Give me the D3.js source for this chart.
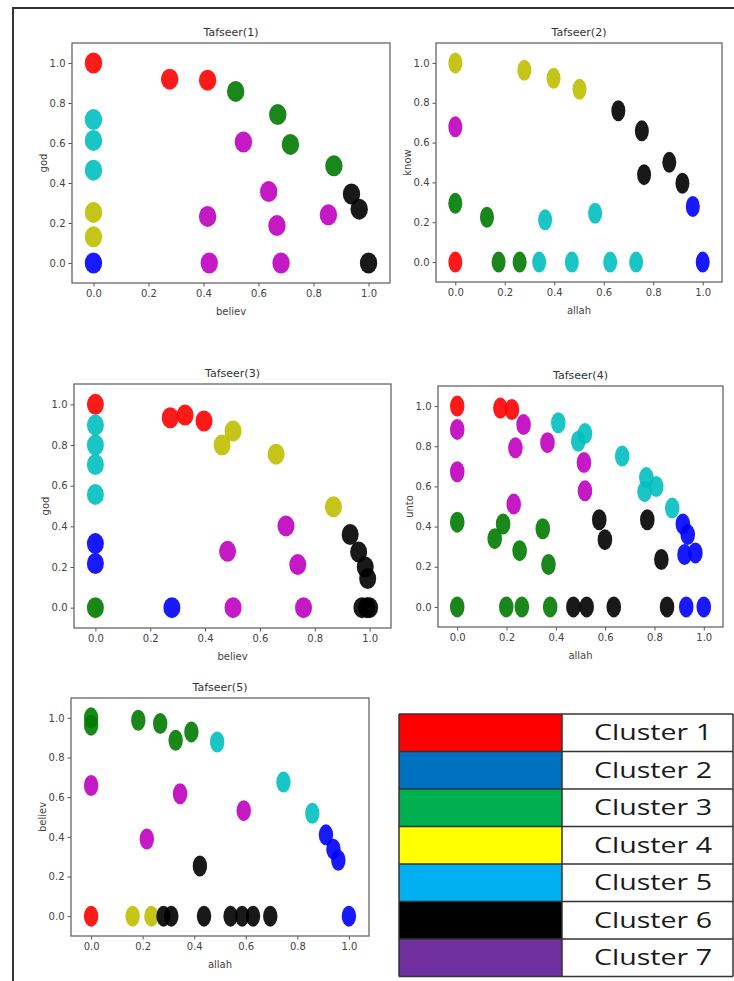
<!DOCTYPE html>
<html>
<head>
<meta charset="utf-8">
<script src="https://cdn.jsdelivr.net/npm/d3@7"></script>
<style>
  html, body { margin: 0; padding: 0; background: #fff; }
  svg { display: block; }
</style>
</head>
<body>
<svg id="chart" width="734" height="981"></svg>
<script>
// ---------------- DATA ----------------
const tickValues = [0.0, 0.2, 0.4, 0.6, 0.8, 1.0];

const titles = ["Tafseer(1)", "Tafseer(2)", "Tafseer(3)", "Tafseer(4)", "Tafseer(5)"];
const xLabels = ["believ", "allah", "believ", "allah", "allah"];
const yLabels = ["god", "know", "god", "unto", "believ"];

// [x, y, colour code]
const tafseer1 = [
  [0, 1.0, "r"], [0.277, 0.919, "r"], [0.415, 0.914, "r"],
  [0, 0, "b"],
  [0.517, 0.858, "g"], [0.670, 0.742, "g"], [0.716, 0.593, "g"], [0.874, 0.486, "g"],
  [0, 0.253, "y"], [0, 0.131, "y"],
  [0, 0.717, "c"], [0, 0.613, "c"], [0, 0.464, "c"],
  [0.938, 0.345, "k"], [0.966, 0.269, "k"], [1.0, 0, "k"],
  [0.545, 0.605, "m"], [0.637, 0.357, "m"], [0.415, 0.233, "m"], [0.667, 0.187, "m"],
  [0.854, 0.241, "m"], [0.421, 0, "m"], [0.682, 0, "m"]
];

const tafseer2 = [
  [0, 0, "r"],
  [0.960, 0.279, "b"], [1.0, 0, "b"],
  [0, 0.295, "g"], [0.128, 0.225, "g"], [0.175, 0, "g"], [0.26, 0, "g"],
  [0, 1.0, "y"], [0.279, 0.963, "y"], [0.397, 0.923, "y"], [0.502, 0.868, "y"],
  [0.363, 0.212, "c"], [0.565, 0.245, "c"], [0.339, 0, "c"], [0.471, 0, "c"], [0.626, 0, "c"], [0.731, 0, "c"],
  [0.659, 0.760, "k"], [0.754, 0.659, "k"], [0.763, 0.439, "k"], [0.865, 0.501, "k"], [0.918, 0.396, "k"],
  [0, 0.679, "m"]
];

const tafseer3 = [
  [0, 1.0, "r"], [0.273, 0.934, "r"], [0.327, 0.947, "r"], [0.396, 0.918, "r"],
  [0, 0.315, "b"], [0, 0.217, "b"], [0.279, 0, "b"],
  [0, 0, "g"],
  [0.462, 0.80, "y"], [0.502, 0.869, "y"], [0.659, 0.755, "y"], [0.868, 0.496, "y"],
  [0, 0.898, "c"], [0, 0.80, "c"], [0, 0.704, "c"], [0, 0.557, "c"],
  [0.929, 0.36, "k"], [0.96, 0.274, "k"], [0.984, 0.2, "k"], [0.993, 0.143, "k"],
  [0.972, 0, "k"], [0.99, 0, "k"], [1.0, 0, "k"],
  [0.695, 0.402, "m"], [0.482, 0.277, "m"], [0.738, 0.212, "m"], [0.502, 0, "m"], [0.759, 0, "m"]
];

const tafseer4 = [
  [0, 1.0, "r"], [0.175, 0.99, "r"], [0.222, 0.983, "r"],
  [0.915, 0.413, "b"], [0.935, 0.36, "b"], [0.922, 0.261, "b"], [0.966, 0.269, "b"],
  [0.929, 0, "b"], [1.0, 0, "b"],
  [0, 0.422, "g"], [0.186, 0.413, "g"], [0.152, 0.34, "g"], [0.253, 0.28, "g"],
  [0.347, 0.389, "g"], [0.37, 0.211, "g"],
  [0, 0, "g"], [0.199, 0, "g"], [0.262, 0, "g"], [0.377, 0, "g"],
  [0.41, 0.917, "c"], [0.491, 0.825, "c"], [0.518, 0.863, "c"], [0.669, 0.751, "c"],
  [0.767, 0.644, "c"], [0.760, 0.574, "c"], [0.807, 0.599, "c"], [0.872, 0.492, "c"],
  [0.576, 0.434, "k"], [0.599, 0.335, "k"], [0.771, 0.434, "k"], [0.828, 0.236, "k"],
  [0.471, 0, "k"], [0.525, 0, "k"], [0.635, 0, "k"], [0.851, 0, "k"],
  [0, 0.884, "m"], [0, 0.673, "m"], [0.269, 0.908, "m"], [0.236, 0.792, "m"],
  [0.366, 0.818, "m"], [0.514, 0.719, "m"], [0.518, 0.578, "m"], [0.229, 0.512, "m"]
];

const tafseer5 = [
  [0, 0, "r"],
  [0.911, 0.41, "b"], [0.94, 0.338, "b"], [0.959, 0.282, "b"], [1.0, 0, "b"],
  [0, 1.0, "g"], [0, 0.963, "g"], [0.183, 0.988, "g"], [0.268, 0.971, "g"],
  [0.328, 0.887, "g"], [0.389, 0.929, "g"],
  [0.161, 0, "y"], [0.234, 0, "y"],
  [0.489, 0.878, "c"], [0.746, 0.676, "c"], [0.858, 0.519, "c"],
  [0.422, 0.253, "k"], [0.281, 0, "k"], [0.311, 0, "k"], [0.438, 0, "k"],
  [0.541, 0, "k"], [0.586, 0, "k"], [0.628, 0, "k"], [0.695, 0, "k"],
  [0, 0.659, "m"], [0.345, 0.617, "m"], [0.592, 0.532, "m"], [0.216, 0.389, "m"]
];

const legendLabels = ["Cluster 1", "Cluster 2", "Cluster 3", "Cluster 4", "Cluster 5", "Cluster 6", "Cluster 7"];
const legendColors = ["#ff0000", "#0070c0", "#00b050", "#ffff00", "#00b0f0", "#000000", "#7030a0"];

// ---------------- STYLE / LAYOUT ----------------
const pointColors = {
  r: "#ff0000", b: "#0000ff", g: "#007a00", y: "#bfbf00",
  c: "#00bfbf", k: "#000000", m: "#bf00bf"
};
const datasets = [tafseer1, tafseer2, tafseer3, tafseer4, tafseer5];
const frames = [
  { left: 72, right: 390, top: 43, bottom: 283, rx: 8.7 },
  { left: 436, right: 722, top: 43, bottom: 282, rx: 7.0 },
  { left: 74, right: 391, top: 384, bottom: 628, rx: 8.5 },
  { left: 438, right: 723, top: 386, bottom: 627, rx: 7.3 },
  { left: 71, right: 369, top: 698, bottom: 936, rx: 7.2 }
];
const xDomain = [-0.078, 1.078];
const yDomain = [-0.1, 1.1];
const ry = 10.5;

const svg = d3.select("#chart");

// outer border of the figure
svg.append("line").attr("x1", 12).attr("x2", 734).attr("y1", 8).attr("y2", 8)
  .attr("stroke", "#333").attr("stroke-width", 2);
svg.append("line").attr("x1", 13).attr("x2", 13).attr("y1", 8).attr("y2", 981)
  .attr("stroke", "#333").attr("stroke-width", 2);

datasets.forEach((data, i) => {
  const f = frames[i];
  const x = d3.scaleLinear().domain(xDomain).range([f.left, f.right]);
  const y = d3.scaleLinear().domain(yDomain).range([f.bottom, f.top]);
  const g = svg.append("g");

  // points
  g.append("g").selectAll("ellipse").data(data).join("ellipse")
    .attr("cx", d => x(d[0]))
    .attr("cy", d => y(d[1]))
    .attr("rx", f.rx)
    .attr("ry", ry)
    .attr("fill", d => pointColors[d[2]])
    .attr("fill-opacity", 0.9);

  // axes
  const xAxis = d3.axisBottom(x).tickValues(tickValues).tickFormat(d3.format(".1f"))
    .tickSize(3.5).tickPadding(3);
  const yAxis = d3.axisLeft(y).tickValues(tickValues).tickFormat(d3.format(".1f"))
    .tickSize(3.5).tickPadding(3);

  const gx = g.append("g").attr("transform", `translate(0,${f.bottom})`).call(xAxis);
  const gy = g.append("g").attr("transform", `translate(${f.left},0)`).call(yAxis);
  [gx, gy].forEach(a => {
    a.select(".domain").remove();
    a.selectAll(".tick line").attr("stroke", "#555").attr("stroke-width", 1);
    a.selectAll(".tick text").attr("fill", "#444")
      .style("font-family", "'DejaVu Sans', sans-serif").style("font-size", "10px");
  });

  // frame
  g.append("rect")
    .attr("x", f.left).attr("y", f.top)
    .attr("width", f.right - f.left).attr("height", f.bottom - f.top)
    .attr("fill", "none").attr("stroke", "#666").attr("stroke-width", 1.3);

  // title
  g.append("text")
    .attr("x", (f.left + f.right) / 2).attr("y", f.top - 7)
    .attr("text-anchor", "middle")
    .attr("fill", "#333")
    .style("font-family", "'DejaVu Sans', sans-serif").style("font-size", "11px")
    .text(titles[i]);

  // x label
  g.append("text")
    .attr("x", (f.left + f.right) / 2).attr("y", f.bottom + 32)
    .attr("text-anchor", "middle")
    .attr("fill", "#444")
    .style("font-family", "'DejaVu Sans', sans-serif").style("font-size", "10px")
    .text(xLabels[i]);

  // y label
  g.append("text")
    .attr("transform", `translate(${f.left - 25},${(f.top + f.bottom) / 2}) rotate(-90)`)
    .attr("text-anchor", "middle")
    .attr("fill", "#444")
    .style("font-family", "'DejaVu Sans', sans-serif").style("font-size", "10px")
    .text(yLabels[i]);
});

// ---------------- LEGEND TABLE ----------------
const table = { left: 399, right: 733, top: 714, bottom: 976.5, split: 562 };
const rowScale = d3.scaleBand().domain(d3.range(legendLabels.length))
  .range([table.top, table.bottom]).padding(0);
const lg = svg.append("g");

lg.selectAll("rect.sw").data(legendColors).join("rect")
  .attr("class", "sw")
  .attr("x", table.left).attr("y", (d, i) => rowScale(i))
  .attr("width", table.split - table.left).attr("height", rowScale.bandwidth())
  .attr("fill", d => d);

lg.selectAll("line.row").data(d3.range(legendLabels.length + 1)).join("line")
  .attr("class", "row")
  .attr("x1", table.left).attr("x2", table.right)
  .attr("y1", i => i < legendLabels.length ? rowScale(i) : table.bottom)
  .attr("y2", i => i < legendLabels.length ? rowScale(i) : table.bottom)
  .attr("stroke", "#333").attr("stroke-width", 1.5);

[table.left, table.split, table.right].forEach(xv => {
  lg.append("line").attr("x1", xv).attr("x2", xv)
    .attr("y1", table.top).attr("y2", table.bottom)
    .attr("stroke", "#333").attr("stroke-width", 1.5);
});

lg.selectAll("text.lab").data(legendLabels).join("text")
  .attr("class", "lab")
  .attr("x", 594)
  .attr("y", (d, i) => rowScale(i) + rowScale.bandwidth() / 2 + 7.5)
  .attr("textLength", 118)
  .attr("lengthAdjust", "spacingAndGlyphs")
  .attr("fill", "#1a1a1a")
  .style("font-family", "'Open Sans', sans-serif").style("font-size", "21px")
  .text(d => d);
</script>
</body>
</html>
